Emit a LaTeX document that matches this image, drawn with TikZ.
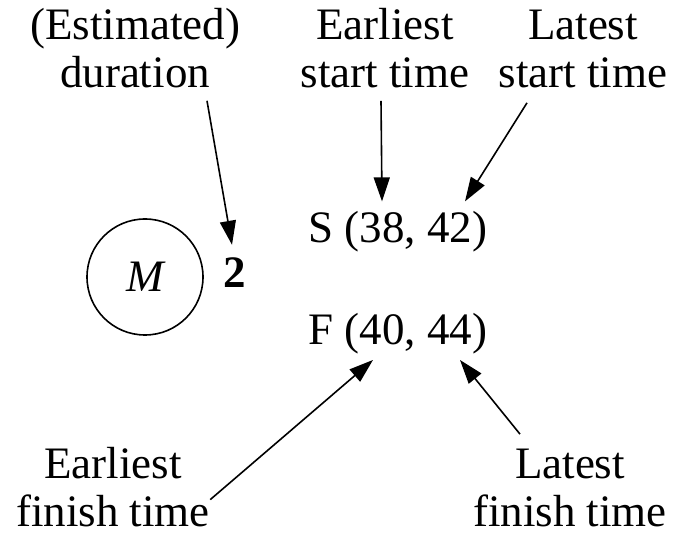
\documentclass[tikz,border=0pt]{standalone}
\usepackage{fontspec}
\setmainfont{Liberation Serif}
\usetikzlibrary{arrows.meta}
\tikzset{
  lbl/.style={align=center,inner sep=0pt,font=\fontsize{22.5}{24}\selectfont},
  ptr/.style={-{Triangle[length=12pt,width=8pt]},line width=0.8pt},
}

\begin{document}
\begin{tikzpicture}[x=0.5pt,y=-0.5pt]
  \useasboundingbox (0,0) rectangle (674,533);
  % activity with its duration and times
  \node[circle,draw,line width=0.8pt,minimum size=58pt,inner sep=0pt,font=\fontsize{22.5}{24}\selectfont\itshape] (act) at (145,277) {M};
  \node[lbl,anchor=base,font=\fontsize{22.5}{24}\selectfont\bfseries] (two) at (235,288) {2};
  \node[lbl,anchor=base west] (S) at (308,243) {S (38, 42)};
  \node[lbl,anchor=base west] (F) at (308,345) {F (40, 44)};
  % labels (base = last line)
  \node[lbl,anchor=base] (dur) at (135,88) {(Estimated)\\duration};
  \node[lbl,anchor=base] (es) at (385,88) {Earliest\\start time};
  \node[lbl,anchor=base] (ls) at (583,88) {Latest\\start time};
  \node[lbl,anchor=base] (ef) at (113,526) {Earliest\\finish time};
  \node[lbl,anchor=base] (lf) at (570,526) {Latest\\finish time};
  % pointers
  \draw[ptr] ([shift={(36pt,-6pt)}]dur.south) -- ([shift={(-1.5pt,6.5pt)}]two.north);
  \draw[ptr] ([shift={(-2pt,-6pt)}]es.south) -- ([shift={(37pt,5pt)}]S.north west);
  \draw[ptr] ([shift={(-28pt,-7pt)}]ls.south) -- ([shift={(78.5pt,5pt)}]S.north west);
  \draw[ptr] ([yshift=-6.5pt]ef.east) -- ([shift={(32.5pt,-2.5pt)}]F.south west);
  \draw[ptr] ([shift={(-25pt,7pt)}]lf.north) -- ([shift={(76pt,-2.5pt)}]F.south west);
\end{tikzpicture}
\end{document}
